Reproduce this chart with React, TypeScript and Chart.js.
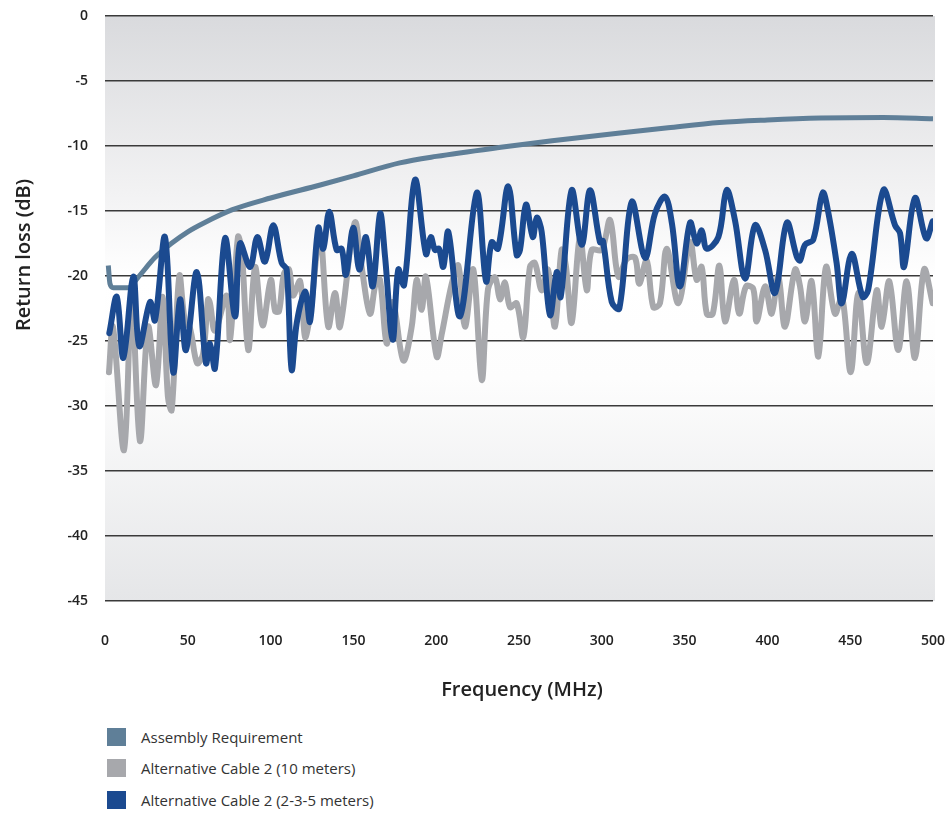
import React, { useEffect, useRef } from "react";
import { Chart, registerables } from "chart.js";

Chart.register(...registerables);

const reqFreq = [2, 3, 5, 14, 20, 30, 40, 50, 60, 77, 100, 130, 150, 178, 200, 239, 270, 311, 340, 371, 400, 432, 470, 500];
const reqDb = [-19.2, -20.6, -20.9, -20.9, -20.1, -18.6, -17.5, -16.6, -15.9, -14.9, -14.0, -13.0, -12.3, -11.3, -10.8, -10.1, -9.6, -9.0, -8.6, -8.2, -8.0, -7.85, -7.8, -7.9];

const blueFreq = [2.6, 7.1, 11.1, 17.1, 20.7, 27.2, 30.2, 36.2, 41.2, 45.3, 48.9, 55.4, 61.0, 63.4, 66.4, 72.5, 78.5, 81.5, 87.6, 92.0, 96.6, 101.6, 106.7, 109.7, 112.7, 115.8, 120.8, 123.8, 128.8, 131.8, 135.4, 139.9, 142.9, 145.5, 149.9, 153.6, 157.6, 161.7, 166.1, 169.1, 173.7, 177.1, 180.6, 187.2, 193.8, 196.7, 199.3, 201.7, 204.3, 207.3, 214.4, 224.5, 230.1, 233.5, 237.3, 243.5, 248.6, 250.6, 254.2, 258.3, 260.7, 263.7, 268.7, 272.8, 275.2, 281.8, 287.9, 292.9, 298.9, 300.7, 306.0, 310.6, 318.1, 326.1, 332.1, 338.2, 342.4, 347.2, 353.3, 357.3, 360.3, 363.4, 370.4, 375.4, 380.4, 386.5, 392.5, 398.6, 404.6, 411.7, 417.7, 419.7, 422.7, 427.7, 433.4, 436.6, 441.8, 444.9, 450.9, 457.5, 460.8, 470.0, 477.1, 480.1, 482.5, 489.1, 495.8, 499.8];
const blueDb = [-24.4, -21.6, -26.3, -20.05, -25.4, -22.0, -23.4, -17.0, -27.4, -21.8, -25.7, -19.7, -26.7, -25.2, -27.1, -17.1, -23.1, -17.5, -19.3, -17.0, -18.9, -16.1, -19.0, -19.5, -27.2, -23.6, -21.2, -23.5, -16.3, -17.9, -15.05, -18.0, -17.9, -19.9, -16.3, -19.5, -17.0, -20.8, -15.2, -18.5, -24.9, -19.5, -20.7, -12.6, -18.3, -17.0, -18.0, -17.9, -19.3, -16.6, -23.1, -13.6, -20.4, -17.4, -17.9, -13.1, -18.4, -18.0, -14.5, -17.0, -15.5, -16.6, -23.0, -19.7, -21.6, -13.4, -17.6, -13.4, -17.4, -17.3, -22.0, -22.5, -14.3, -18.6, -15.2, -13.9, -16.0, -20.8, -15.9, -17.5, -16.5, -17.9, -17.0, -13.4, -15.7, -20.2, -16.1, -18.0, -21.3, -15.9, -18.5, -18.8, -17.6, -17.2, -13.6, -15.0, -19.0, -22.1, -18.3, -21.6, -21.1, -13.4, -16.1, -16.7, -19.3, -14.0, -17.1, -15.8];

const grayFreq = [2.4, 4.8, 11.5, 16.1, 21.1, 26.0, 30.8, 34.8, 38.0, 40.3, 44.9, 48.3, 51.3, 55.6, 59.2, 62.2, 63.4, 66.4, 73.5, 75.5, 80.3, 82.5, 86.5, 90.6, 95.2, 100.1, 102.7, 105.1, 108.1, 111.1, 113.5, 117.8, 120.8, 123.8, 129.8, 134.8, 138.9, 141.9, 150.8, 155.2, 160.0, 163.6, 166.1, 170.1, 173.9, 180.1, 185.2, 188.2, 191.2, 193.8, 200.3, 203.3, 209.4, 213.4, 217.4, 222.4, 227.5, 231.3, 235.5, 238.5, 241.5, 244.6, 248.6, 252.6, 256.6, 259.6, 263.7, 267.5, 271.7, 275.7, 278.3, 281.8, 286.8, 290.9, 293.9, 299.9, 305.0, 310.0, 315.1, 320.1, 322.6, 327.1, 331.1, 335.1, 339.2, 346.2, 353.3, 357.3, 360.3, 363.4, 367.0, 371.0, 374.4, 379.8, 383.0, 387.1, 391.5, 393.5, 398.6, 402.6, 406.6, 410.6, 416.7, 419.7, 422.7, 426.7, 430.8, 435.4, 440.8, 445.1, 450.3, 454.9, 460.0, 466.0, 469.0, 473.6, 479.0, 484.1, 489.1, 494.6, 499.8];
const grayDb = [-27.4, -23.9, -33.4, -21.8, -32.7, -23.9, -28.4, -21.6, -29.3, -30.3, -20.0, -23.5, -24.0, -26.7, -26.0, -21.8, -22.1, -24.2, -21.5, -24.9, -17.0, -18.0, -25.7, -19.3, -23.8, -20.3, -22.7, -22.7, -19.8, -19.5, -21.5, -20.4, -24.7, -23.0, -17.0, -23.9, -21.3, -23.9, -15.9, -19.5, -22.9, -20.5, -20.3, -25.2, -22.0, -26.5, -23.9, -20.3, -22.6, -20.05, -26.2, -24.5, -20.6, -19.2, -23.9, -19.5, -28.0, -21.0, -20.1, -21.8, -20.5, -22.4, -22.1, -24.7, -19.3, -19.0, -21.1, -19.5, -23.9, -18.0, -19.2, -23.6, -17.0, -21.1, -18.0, -18.0, -15.7, -20.05, -18.7, -18.6, -20.6, -18.8, -22.4, -22.1, -17.9, -22.1, -17.4, -20.3, -19.3, -22.9, -22.9, -19.2, -23.5, -20.3, -22.9, -20.8, -21.0, -23.5, -20.8, -22.9, -20.0, -23.9, -19.5, -20.8, -23.5, -20.4, -26.2, -19.3, -22.9, -21.6, -27.4, -21.3, -26.7, -21.1, -23.9, -20.4, -25.7, -20.4, -26.3, -19.5, -22.1];

const xTicks = [0, 50, 100, 150, 200, 250, 300, 350, 400, 450, 500];
const yTicks = [0, -5, -10, -15, -20, -25, -30, -35, -40, -45];

const legendLabels = ["Assembly Requirement", "Alternative Cable 2 (10 meters)", "Alternative Cable 2 (2-3-5 meters)"];
const colors = ["#5f7f98", "#a7a8ac", "#1b4a90"];

const toPts = (xs: number[], ys: number[]) => xs.map((x, i) => ({ x, y: ys[i] }));

const bgPlugin = {
  id: "bgGrad",
  beforeDraw(chart: any) {
    const { ctx, chartArea } = chart;
    if (!chartArea) return;
    const g = ctx.createLinearGradient(0, chartArea.top, 0, chartArea.bottom);
    g.addColorStop(0, "#d9dadd");
    g.addColorStop(0.3, "#f2f2f3");
    g.addColorStop(0.45, "#ffffff");
    g.addColorStop(0.62, "#fdfdfd");
    g.addColorStop(1, "#e5e6e8");
    ctx.save();
    ctx.fillStyle = g;
    ctx.fillRect(chartArea.left, chartArea.top, chartArea.right - chartArea.left + 2, chartArea.bottom - chartArea.top);
    ctx.restore();
  },
};

const titlePlugin = {
  id: "axisTitles",
  afterDraw(chart: any) {
    const { ctx, chartArea } = chart;
    ctx.save();
    ctx.fillStyle = "#222";
    ctx.font = "600 20px 'Open Sans'";
    ctx.textAlign = "center";
    ctx.textBaseline = "middle";
    ctx.fillText("Frequency (MHz)", (chartArea.left + chartArea.right) / 2 + 3, 690);
    ctx.translate(24, 255);
    ctx.rotate(-Math.PI / 2);
    ctx.fillText("Return loss (dB)", 0, 0);
    ctx.restore();
  },
};

export default function App() {
  const ref = useRef<HTMLCanvasElement | null>(null);
  useEffect(() => {
    if (!ref.current) return;
    const chart = new Chart(ref.current, {
      type: "line",
      data: {
        datasets: [
          {
            label: legendLabels[0],
            data: toPts(reqFreq, reqDb),
            borderColor: colors[0],
            borderWidth: 5,
            pointRadius: 0,
            tension: 0.4,
            cubicInterpolationMode: "monotone",
            order: 2,
          },
          {
            label: legendLabels[1],
            data: toPts(grayFreq, grayDb),
            borderColor: colors[1],
            borderWidth: 6,
            pointRadius: 0,
            tension: 0.35,
            borderJoinStyle: "round",
            borderCapStyle: "round",
            order: 3,
          },
          {
            label: legendLabels[2],
            data: toPts(blueFreq, blueDb),
            borderColor: colors[2],
            borderWidth: 6,
            pointRadius: 0,
            tension: 0.35,
            borderJoinStyle: "round",
            borderCapStyle: "round",
            order: 1,
          },
        ],
      },
      options: {
        animation: false,
        responsive: false,
        maintainAspectRatio: false,
        layout: { padding: { top: 16, right: 15, left: 0, bottom: 0 } },
        plugins: { legend: { display: false }, tooltip: { enabled: false } },
        scales: {
          x: {
            type: "linear",
            min: 0,
            max: 500,
            afterBuildTicks: (axis: any) => {
              axis.ticks = xTicks.map((v) => ({ value: v }));
            },
            afterFit: (axis: any) => {
              axis.height = 109;
              axis.paddingLeft = 0;
              axis.paddingRight = 0;
            },
            grid: { display: false, drawTicks: false },
            border: { display: false },
            ticks: {
              padding: 32,
              color: "#222",
              font: { family: "'Open Sans'", size: 14, weight: "600" },
              maxRotation: 0,
              autoSkip: false,
            },
          },
          y: {
            type: "linear",
            min: -45,
            max: 0,
            afterBuildTicks: (axis: any) => {
              axis.ticks = yTicks.map((v) => ({ value: v }));
            },
            afterFit: (axis: any) => {
              axis.width = 105;
              axis.paddingTop = 0;
              axis.paddingBottom = 0;
            },
            grid: { color: "#3a3a3a", lineWidth: 1.5, drawTicks: false },
            border: { display: false },
            ticks: {
              padding: 17,
              color: "#222",
              font: { family: "'Open Sans'", size: 14, weight: "600" },
              autoSkip: false,
            },
          },
        },
      },
      plugins: [bgPlugin, titlePlugin],
    } as any);
    return () => chart.destroy();
  }, []);

  return (
    <div style={{ position: "absolute", left: 0, top: 0, width: 948, height: 813, background: "#fff", fontFamily: "'Open Sans', sans-serif" }}>
      <canvas ref={ref} width={948} height={710} style={{ display: "block", width: 948, height: 710 }} />
      {legendLabels.map((lab, i) => (
        <div key={lab} style={{ position: "absolute", left: 107, top: 727 + i * 31.5, height: 19, display: "flex", alignItems: "center" }}>
          <div style={{ width: 19, height: 18, background: colors[i] }} />
          <span style={{ marginLeft: 15, fontSize: 15, color: "#333", whiteSpace: "nowrap" }}>{lab}</span>
        </div>
      ))}
    </div>
  );
}
